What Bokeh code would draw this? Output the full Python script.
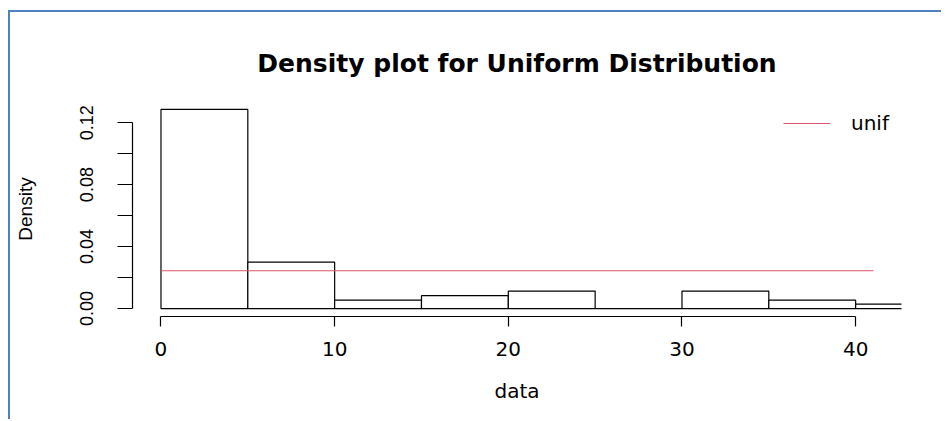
from bokeh.plotting import figure
from bokeh.models import Range1d, FixedTicker, Legend, LegendItem
from bokeh.embed import file_html
from bokeh.resources import INLINE

# ---- data ----
bin_left = [0, 5, 10, 15, 20, 25, 30, 35, 40]
bin_right = [5, 10, 15, 20, 25, 30, 35, 40, 45]
density = [0.1285, 0.0300, 0.0054, 0.0083, 0.0113, 0.0, 0.0113, 0.0054, 0.0028]

unif_x = [0, 41.03]
unif_y = [0.0244, 0.0244]

x_ticks = [0, 10, 20, 30, 40]
y_ticks = [0.0, 0.02, 0.04, 0.06, 0.08, 0.1, 0.12]
y_tick_labels = ["0.00", "", "0.04", "", "0.08", "", "0.12"]

title_text = "Density plot for Uniform Distribution"
x_label = "data"
y_label = "Density"
legend_label = "unif"

H_FONT = "DejaVu Sans"
V_FONT = "Liberation Sans"
LW = 1.2

p = figure(
    width=931, height=407,
    x_range=Range1d(-1.64, 42.64),
    y_range=Range1d(-0.00514, 0.13364),
    output_backend="svg", toolbar_location=None,
    min_border_left=122, min_border_right=42,
    min_border_top=89, min_border_bottom=105,
    title=title_text,
)
p.styles = {
    "border-left": "2px solid #4F81BD",
    "border-top": "2px solid #4F81BD",
    "margin-left": "8px",
    "margin-top": "10px",
    "box-sizing": "content-box",
}
p.outline_line_color = None
p.xgrid.visible = False
p.ygrid.visible = False
p.background_fill_color = "white"
p.border_fill_color = "white"

# title
p.title.align = "center"
p.title.text_font = H_FONT
p.title.text_font_size = "25px"
p.title.text_font_style = "bold"
p.title.text_color = "black"
p.title.standoff = 47

# histogram bars
p.quad(left=bin_left, right=bin_right, bottom=0, top=density,
       fill_color="white", line_color="black", line_width=LW)

# uniform density line
r_unif = p.line(unif_x, unif_y, line_color="#DF536B", line_width=1.2)

# x axis
xa = p.xaxis[0]
xa.ticker = FixedTicker(ticks=x_ticks, minor_ticks=[])
xa.bounds = (x_ticks[0], x_ticks[-1])
xa.axis_line_color = "black"
xa.axis_line_width = LW
xa.major_tick_line_color = "black"
xa.major_tick_line_width = LW
xa.major_tick_out = 10
xa.major_tick_in = 0
xa.minor_tick_line_color = None
xa.major_label_text_font = H_FONT
xa.major_label_text_font_size = "20px"
xa.major_label_text_color = "black"
xa.major_label_standoff = 15
xa.axis_label = x_label
xa.axis_label_text_font = H_FONT
xa.axis_label_text_font_size = "20px"
xa.axis_label_text_font_style = "normal"
xa.axis_label_text_color = "black"
xa.axis_label_standoff = 20

# y axis
ya = p.yaxis[0]
ya.ticker = FixedTicker(ticks=y_ticks, minor_ticks=[])
ya.bounds = (y_ticks[0], y_ticks[-1])
ya.major_label_overrides = {t: lab for t, lab in zip(y_ticks, y_tick_labels)}
ya.major_label_orientation = "vertical"
ya.axis_line_color = "black"
ya.axis_line_width = LW
ya.major_tick_line_color = "black"
ya.major_tick_line_width = LW
ya.major_tick_out = 15
ya.major_tick_in = 0
ya.minor_tick_line_color = None
ya.major_label_text_font = V_FONT
ya.major_label_text_font_size = "18px"
ya.major_label_text_color = "black"
ya.major_label_standoff = 24
ya.axis_label = y_label
ya.axis_label_text_font = V_FONT
ya.axis_label_text_font_size = "19px"
ya.axis_label_text_font_style = "normal"
ya.axis_label_text_color = "black"
ya.axis_label_standoff = 42

# legend
legend = Legend(
    items=[LegendItem(label=legend_label, renderers=[r_unif])],
    location=(651, 181),
    border_line_color=None,
    background_fill_alpha=0,
    glyph_width=47, glyph_height=20,
    label_height=20, label_standoff=21,
    padding=0, margin=0, spacing=0,
    label_text_font=H_FONT, label_text_font_size="20px",
    label_text_color="black",
)
p.add_layout(legend)

open("out.html", "w").write(file_html(p, INLINE))
